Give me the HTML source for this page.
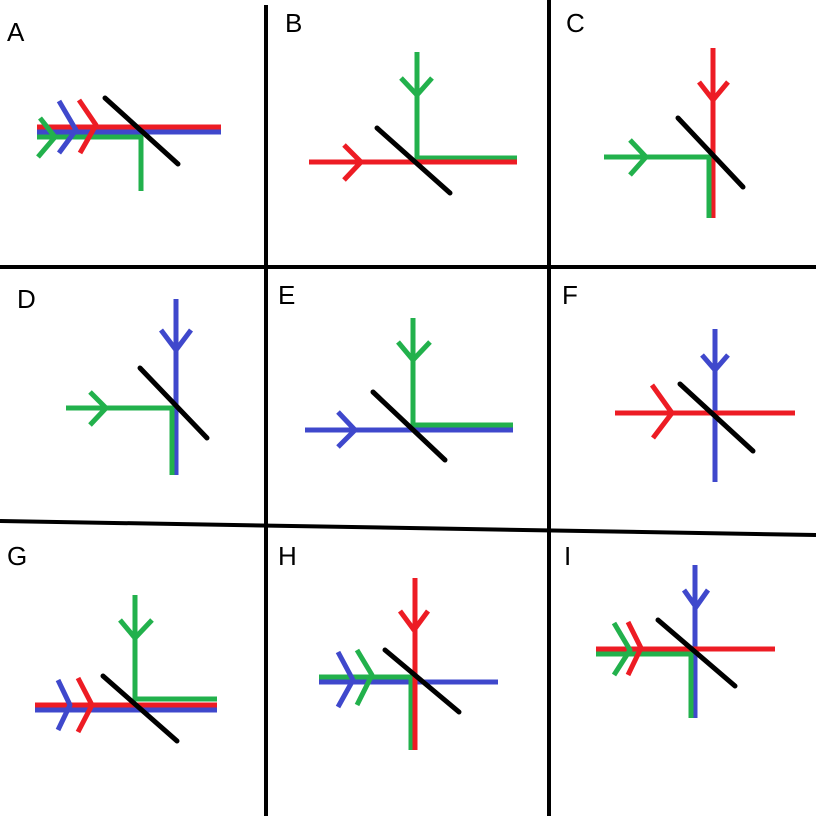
<!DOCTYPE html>
<html><head><meta charset="utf-8"><style>
html,body{margin:0;padding:0;background:#fff;}
svg{display:block}
text{font-family:"Liberation Sans",sans-serif;font-size:26px;fill:#000}
</style></head><body>
<svg width="816" height="816" viewBox="0 0 816 816" xmlns="http://www.w3.org/2000/svg">
<g stroke="#000" stroke-width="4" fill="none">
<line x1="266" y1="5" x2="266" y2="816"/>
<line x1="549" y1="0" x2="549" y2="816"/>
<line x1="0" y1="267" x2="816" y2="267"/>
<line x1="0" y1="521" x2="816" y2="535"/>
</g>
<g>
<text x="7" y="41">A</text><text x="285" y="32">B</text><text x="566" y="32">C</text>
<text x="17" y="308">D</text><text x="278" y="304">E</text><text x="562" y="304">F</text>
<text x="7" y="565">G</text><text x="278" y="565">H</text><text x="564" y="565">I</text>
</g>
<g fill="none" stroke-width="5" stroke-linecap="butt" stroke-linejoin="round">
<!-- A -->
<line x1="37" y1="127" x2="221" y2="127" stroke="#ed1c24"/>
<line x1="37" y1="132" x2="221" y2="132" stroke="#3f48cc"/>
<polyline points="37,137 141,137 141,191" stroke="#22b14c"/>
<polyline points="40,118 55,137 38,157" stroke="#22b14c"/>
<polyline points="59,101 76,130 59,153" stroke="#3f48cc"/>
<polyline points="79,100 96,125 80,153" stroke="#ed1c24"/>
<line x1="105" y1="98" x2="178" y2="164" stroke="#000" stroke-linecap="round"/>
<!-- B -->
<polyline points="417,52 417,158 517,158" stroke="#22b14c"/>
<polyline points="401,78 417,95 432,78" stroke="#22b14c"/>
<line x1="309" y1="162" x2="517" y2="162" stroke="#ed1c24"/>
<polyline points="344,145 361,162 344,180" stroke="#ed1c24"/>
<line x1="377" y1="128" x2="450" y2="193" stroke="#000" stroke-linecap="round"/>
<!-- C -->
<line x1="713" y1="48" x2="713" y2="218" stroke="#ed1c24"/>
<polyline points="699,82 713,100 728,82" stroke="#ed1c24"/>
<polyline points="604,157 709,157 709,218" stroke="#22b14c"/>
<polyline points="630,140 646,157 630,175" stroke="#22b14c"/>
<line x1="678" y1="118" x2="743" y2="187" stroke="#000" stroke-linecap="round"/>
<!-- D -->
<line x1="176" y1="299" x2="176" y2="475" stroke="#3f48cc"/>
<polyline points="161,330 176,350 191,330" stroke="#3f48cc"/>
<polyline points="66,408 172,408 172,475" stroke="#22b14c"/>
<polyline points="90,392 106,408 90,425" stroke="#22b14c"/>
<line x1="140" y1="368" x2="207" y2="438" stroke="#000" stroke-linecap="round"/>
<!-- E -->
<polyline points="413,318 413,425 513,425" stroke="#22b14c"/>
<polyline points="398,342 413,360 430,342" stroke="#22b14c"/>
<line x1="305" y1="430" x2="513" y2="430" stroke="#3f48cc"/>
<polyline points="338,412 355,430 338,447" stroke="#3f48cc"/>
<line x1="373" y1="392" x2="445" y2="460" stroke="#000" stroke-linecap="round"/>
<!-- F -->
<line x1="715" y1="329" x2="715" y2="482" stroke="#3f48cc"/>
<polyline points="702,355 715,370 728,355" stroke="#3f48cc"/>
<line x1="615" y1="413" x2="795" y2="413" stroke="#ed1c24"/>
<polyline points="652,385 672,413 653,438" stroke="#ed1c24"/>
<line x1="680" y1="384" x2="753" y2="451" stroke="#000" stroke-linecap="round"/>
<!-- G -->
<polyline points="135,595 135,699 217,699" stroke="#22b14c"/>
<polyline points="120,620 135,638 152,620" stroke="#22b14c"/>
<line x1="35" y1="705" x2="217" y2="705" stroke="#ed1c24"/>
<line x1="35" y1="710" x2="217" y2="710" stroke="#3f48cc"/>
<polyline points="58,680 70,705 58,730" stroke="#3f48cc"/>
<polyline points="78,678 92,705 78,732" stroke="#ed1c24"/>
<line x1="103" y1="676" x2="177" y2="741" stroke="#000" stroke-linecap="round"/>
<!-- H -->
<line x1="319" y1="682" x2="498" y2="682" stroke="#3f48cc"/>
<polyline points="319,677 411,677 411,750" stroke="#22b14c"/>
<line x1="415" y1="578" x2="415" y2="750" stroke="#ed1c24"/>
<polyline points="400,611 414,630 428,611" stroke="#ed1c24"/>
<polyline points="338,652 353,680 338,707" stroke="#3f48cc"/>
<polyline points="357,650 372,675 357,705" stroke="#22b14c"/>
<line x1="385" y1="650" x2="459" y2="712" stroke="#000" stroke-linecap="round"/>
<!-- I -->
<line x1="695" y1="565" x2="695" y2="718" stroke="#3f48cc"/>
<polyline points="684,590 696,607 708,590" stroke="#3f48cc"/>
<line x1="596" y1="649" x2="775" y2="649" stroke="#ed1c24"/>
<polyline points="596,654 691,654 691,718" stroke="#22b14c"/>
<polyline points="614,623 630,650 614,675" stroke="#22b14c"/>
<polyline points="628,622 641,648 628,675" stroke="#ed1c24"/>
<line x1="658" y1="620" x2="735" y2="686" stroke="#000" stroke-linecap="round"/>
</g>
</svg>
</body></html>
